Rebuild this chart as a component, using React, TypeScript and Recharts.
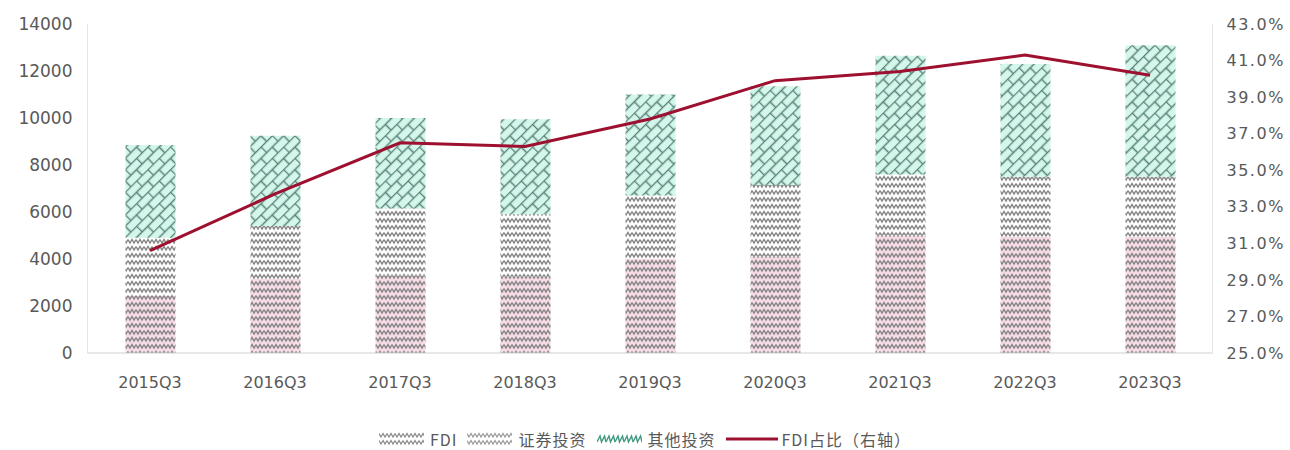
import React from "react";
import {
  ComposedChart,
  Bar,
  Line,
  XAxis,
  YAxis,
  Legend,
} from "recharts";

const quarters = [
  "2015Q3",
  "2016Q3",
  "2017Q3",
  "2018Q3",
  "2019Q3",
  "2020Q3",
  "2021Q3",
  "2022Q3",
  "2023Q3",
];
const fdi = [2450, 3150, 3300, 3250, 4000, 4100, 5000, 4950, 4950];
const securities = [2450, 2250, 2850, 2650, 2700, 3050, 2600, 2550, 2550];
const other = [3950, 3850, 3850, 4050, 4300, 4200, 5050, 4800, 5600];
const fdiShare = [30.6, 33.7, 36.5, 36.3, 37.8, 39.9, 40.4, 41.3, 40.2];

const leftTicks = [0, 2000, 4000, 6000, 8000, 10000, 12000, 14000];
const rightTicks = [25, 27, 29, 31, 33, 35, 37, 39, 41, 43];

const data = quarters.map((q, i) => ({
  q,
  FDI: fdi[i],
  证券投资: securities[i],
  其他投资: other[i],
  FDI占比: fdiShare[i],
}));

const textColor = "#595959";
const lineColor = "#9e1030";
const zig = "M0 2 Q1 2 2.5 5.5 Q4 2 4 2 Q4 2 5.5 5.5 Q7 2 8 2";

const legendItems = [
  { name: "FDI", fill: "url(#pFdiLegend)" },
  { name: "证券投资", fill: "url(#pSecLegend)" },
  { name: "其他投资", fill: "url(#pOtherLegend)" },
];

function LegendContent() {
  return (
    <div
      style={{
        display: "flex",
        justifyContent: "center",
        alignItems: "center",
        height: 22,
        fontFamily: "'Noto Sans CJK SC', sans-serif",
        fontSize: 16,
        letterSpacing: 1,
        color: textColor,
      }}
    >
      {legendItems.map((it) => (
        <span key={it.name} style={{ display: "flex", alignItems: "center", marginRight: 10 }}>
          <svg width={45} height={14} style={{ marginRight: 6 }}>
            <rect width={45} height={14} fill={it.fill} />
          </svg>
          {it.name}
        </span>
      ))}
      <span style={{ display: "flex", alignItems: "center" }}>
        <svg width={52} height={14} style={{ marginRight: 4 }}>
          <line x1={0} y1={7} x2={52} y2={7} stroke={lineColor} strokeWidth={3} />
        </svg>
        FDI占比（右轴）
      </span>
    </div>
  );
}

export default function App() {
  return (
    <div style={{ position: "absolute", left: 0, top: 0, width: 1290, height: 450, background: "#fff" }}>
      <ComposedChart
        width={1290}
        height={450}
        data={data}
        barSize={50}
        margin={{ top: 24, right: 0, left: 0, bottom: 0 }}
      >
        <defs>
          <pattern id="pFdi" width="8" height="7" patternUnits="userSpaceOnUse">
            <rect width="8" height="7" fill="#f8dde8" />
            <path d="M0 1.5 L2 5 L4 1.5 L6 5 L8 1.5" fill="none" stroke="#858585" strokeWidth="1.4" />
          </pattern>
          <pattern id="pSec" width="8" height="7" patternUnits="userSpaceOnUse">
            <rect width="8" height="7" fill="#ffffff" />
            <path d="M0 1.5 L2 5 L4 1.5 L6 5 L8 1.5" fill="none" stroke="#858585" strokeWidth="1.4" />
          </pattern>
          <pattern
            id="pOther"
            width="16"
            height="16"
            patternUnits="userSpaceOnUse"
            patternTransform="rotate(-45)"
          >
            <rect width="16" height="16" fill="#d4f6eb" />
            <path d="M0 0.5H16M0 8.5H16M0.5 0.5V8.5M8.5 8.5V16.5" fill="none" stroke="#5a847a" strokeWidth="1.5" />
          </pattern>
          <pattern id="pFdiLegend" width="8" height="7" patternUnits="userSpaceOnUse">
            <rect width="8" height="7" fill="#ffffff" />
            <path d="M0 1.5 L2 5 L4 1.5 L6 5 L8 1.5" fill="none" stroke="#8a8a8a" strokeWidth="1.2" />
          </pattern>
          <pattern id="pSecLegend" width="8" height="7" patternUnits="userSpaceOnUse">
            <rect width="8" height="7" fill="#ffffff" />
            <path d="M0 1.5 L2 5 L4 1.5 L6 5 L8 1.5" fill="none" stroke="#9a9a9a" strokeWidth="1.2" />
          </pattern>
          <pattern id="pOtherLegend" width="9" height="14" patternUnits="userSpaceOnUse">
            <rect width="9" height="14" fill="#ffffff" />
            <path d="M0 10 L3 4 L4.5 10 L7.5 4 L9 10" fill="none" stroke="#3f9a80" strokeWidth="1.4" />
          </pattern>
        </defs>
        <XAxis
          dataKey="q"
          height={75}
          tickLine={false}
          tickSize={0}
          tickMargin={24}
          axisLine={{ stroke: "#d0d0d0" }}
          tick={{ fill: textColor, fontSize: 16, fontFamily: "'DejaVu Sans', sans-serif" }}
        />
        <YAxis
          yAxisId="left"
          width={87.5}
          domain={[0, 14000]}
          ticks={leftTicks}
          interval={0}
          tickLine={false}
          tickSize={0}
          tickMargin={15}
          axisLine={{ stroke: "#e3e3e3" }}
          tick={{ fill: textColor, fontSize: 17, fontFamily: "'DejaVu Sans', sans-serif" }}
        />
        <YAxis
          yAxisId="right"
          orientation="right"
          width={77.5}
          domain={[25, 43]}
          ticks={rightTicks}
          interval={0}
          tickLine={false}
          tickSize={0}
          tickMargin={14}
          axisLine={{ stroke: "#e3e3e3" }}
          tickFormatter={(v: number) => `${v.toFixed(1)}%`}
          tick={{ fill: textColor, fontSize: 16, fontFamily: "'DejaVu Sans', sans-serif", letterSpacing: 1.5 }}
        />
        <Legend verticalAlign="bottom" align="center" height={22} content={<LegendContent />} />
        <Bar yAxisId="left" dataKey="FDI" stackId="a" fill="url(#pFdi)" isAnimationActive={false} />
        <Bar yAxisId="left" dataKey="证券投资" stackId="a" fill="url(#pSec)" isAnimationActive={false} />
        <Bar yAxisId="left" dataKey="其他投资" stackId="a" fill="url(#pOther)" isAnimationActive={false} />
        <Line
          yAxisId="right"
          type="linear"
          dataKey="FDI占比"
          stroke={lineColor}
          strokeWidth={3}
          dot={false}
          isAnimationActive={false}
        />
      </ComposedChart>
    </div>
  );
}
